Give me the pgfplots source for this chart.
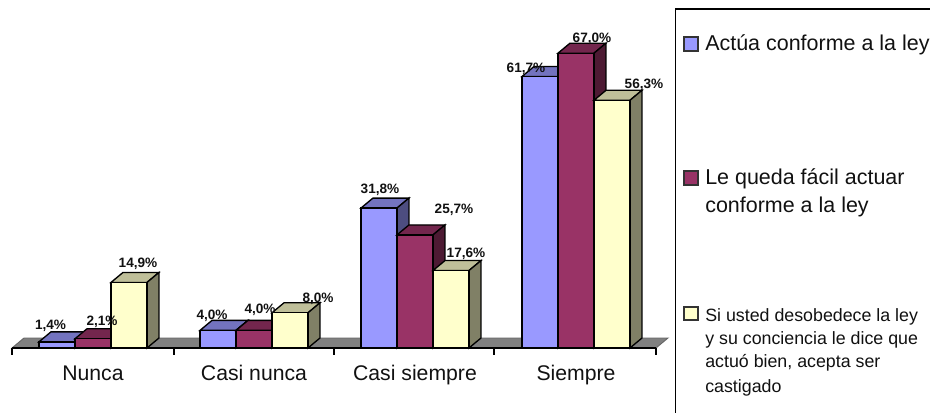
\documentclass[border=0pt]{standalone}
\usepackage{fontspec}
\setmainfont{Liberation Sans}
\usepackage{pgfplots}
\pgfplotsset{compat=1.18}

\definecolor{azulF}{HTML}{9999FF}\definecolor{azulT}{HTML}{7373BF}\definecolor{azulS}{HTML}{4D4D80}
\definecolor{vinoF}{HTML}{993366}\definecolor{vinoT}{HTML}{73264D}\definecolor{vinoS}{HTML}{4D1A33}
\definecolor{cremaF}{HTML}{FFFFCC}\definecolor{cremaT}{HTML}{BFBF99}\definecolor{cremaS}{HTML}{808066}
\definecolor{tinta}{HTML}{111111}

% 1 px of the drawing grid
\newcommand{\px}{0.75pt}
% bar geometry in axis units: width, depth in x, depth in y
\def\bw{0.2236}\def\dx{0.0745}\def\dy{2.27}

% top and side faces of one bar: centre, value, top colour, side colour
\newcommand{\faces}[4]{%
  \pgfmathsetmacro\xl{#1-\bw/2}\pgfmathsetmacro\xr{#1+\bw/2}%
  \pgfmathsetmacro\xlb{\xl+\dx}\pgfmathsetmacro\xrb{\xr+\dx}%
  \pgfmathsetmacro\vb{#2+\dy}%
  \edef\doit{\noexpand\addplot[forget plot,draw=black,line width=1pt,fill=#3]
    coordinates {(\xl,#2)(\xlb,\vb)(\xrb,\vb)(\xr,#2)} --cycle;
    \noexpand\addplot[forget plot,draw=black,line width=1pt,fill=#4]
    coordinates {(\xr,0)(\xrb,\dy)(\xrb,\vb)(\xr,#2)} --cycle;}%
  \doit}

% one series: bar shift in px, four values, front/top/side colours
\newcommand{\serie}[8]{%
  \pgfmathsetmacro\ca{0+#1*36/161}\faces{\ca}{#2}{#7}{#8}%
  \pgfmathsetmacro\ca{1+#1*36/161}\faces{\ca}{#3}{#7}{#8}%
  \pgfmathsetmacro\ca{2+#1*36/161}\faces{\ca}{#4}{#7}{#8}%
  \pgfmathsetmacro\ca{3+#1*36/161}\faces{\ca}{#5}{#7}{#8}%
  \addplot[ybar,forget plot,bar width=27pt,bar shift=#1*27pt,draw=black,line width=1pt,fill=#6]
    coordinates {(0,#2)(1,#3)(2,#4)(3,#5)};}

% value label placed on the px grid (x, baseline measured from the top)
\newcommand{\lab}[3]{\node[anchor=base,inner sep=0pt,text=tinta,font=\fontsize{10.2pt}{12pt}\selectfont\bfseries]
  at (#1*\px,413*\px-#2*\px) {#3};}

\begin{document}
\begin{tikzpicture}
\useasboundingbox (0,0) rectangle (930*\px,413*\px);
\begin{axis}[
  at={(12*\px,65*\px)}, anchor=south west, scale only axis,
  width=644*\px, height=348*\px,
  xmin=-0.503, xmax=3.497, ymin=0, ymax=79.09,
  clip=false, axis on top,
  axis y line=none, axis x line=bottom,
  x axis line style={-,line width=1.2pt,black},
  xtick={0,1,2,3},
  xticklabels={Nunca,Casi nunca,Casi siempre,Siempre},
  minor xtick={-0.503,0.503,1.497,2.491,3.497},
  major tick length=0pt, minor tick length=7*\px,
  tick align=outside,
  minor tick style={black,line width=1.1pt},
  xticklabel style={font=\fontsize{15.9pt}{18pt}\selectfont,text=tinta,anchor=base,yshift=-24.2pt,inner sep=0pt},
]
% floor of the 3D plot
\addplot[forget plot,draw=black!60,line width=0.7pt,fill=black!50]
  coordinates {(-0.503,0)(-0.4285,2.27)(3.5715,2.27)(3.497,0)} --cycle;
\serie{-1}{1.4}{4.0}{31.8}{61.7}{azulF}{azulT}{azulS}
\serie{0}{2.1}{4.0}{25.7}{67.0}{vinoF}{vinoT}{vinoS}
\serie{1}{14.9}{8.0}{17.6}{56.3}{cremaF}{cremaT}{cremaS}
\end{axis}

% value labels
\lab{50.5}{330}{1,4\%}
\lab{102}{326}{2,1\%}
\lab{138}{268}{14,9\%}
\lab{212}{320}{4,0\%}
\lab{260}{314}{4,0\%}
\lab{318}{303}{8,0\%}
\lab{380}{194}{31,8\%}
\lab{454}{214}{25,7\%}
\lab{466}{258}{17,6\%}
\lab{526}{73}{61,7\%}
\lab{592}{43}{67,0\%}
\lab{644}{89}{56,3\%}

% legend frame, open on the right and at the bottom
\draw[black,line width=1.1pt] (675.5*\px,0) -- (675.5*\px,404*\px) -- (930*\px,404*\px);
% legend keys
\draw[black!80,line width=0.9pt,fill=azulF] (684*\px,362*\px) rectangle (698*\px,376*\px);
\draw[black!80,line width=0.9pt,fill=vinoF] (684*\px,228*\px) rectangle (698*\px,242*\px);
\draw[black!80,line width=0.9pt,fill=cremaF] (684*\px,93*\px) rectangle (698*\px,106*\px);
% legend entries
\newcommand{\ley}[3]{\node[anchor=base west,inner sep=0pt,text=tinta,font=\fontsize{#3}{18pt}\selectfont]
  at (705*\px,413*\px-#1*\px) {#2};}
\ley{51}{Actúa conforme a la ley}{16.1pt}
\ley{185}{Le queda fácil actuar}{16.1pt}
\ley{213}{conforme a la ley}{16.1pt}
\ley{322}{Si usted desobedece la ley}{13.35pt}
\ley{345}{y su conciencia le dice que}{13.35pt}
\ley{368}{actuó bien, acepta ser}{13.35pt}
\ley{393}{castigado}{13.35pt}
\end{tikzpicture}
\end{document}
